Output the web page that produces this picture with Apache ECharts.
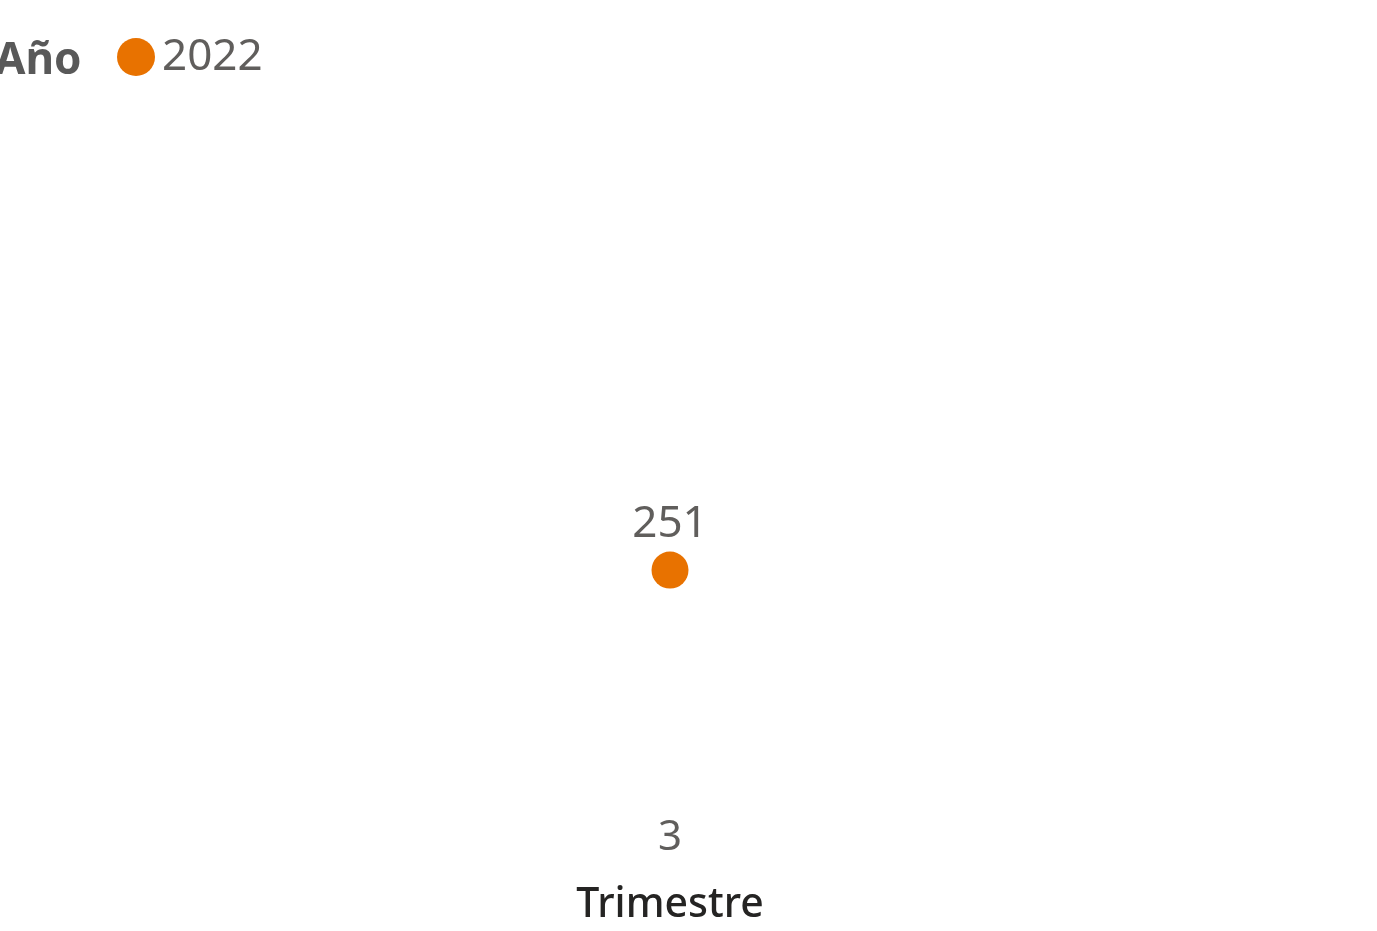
<!DOCTYPE html>
<html>
<head>
<meta charset="utf-8">
<script src="https://cdn.jsdelivr.net/npm/echarts@6/dist/echarts.min.js"></script>
<style>
  html, body { margin: 0; padding: 0; background: #fff; }
  #chart { width: 1377px; height: 931px; }
</style>
</head>
<body>
<div id="chart"></div>
<script>
// chart data
var trimestres = ['3']
var serieNombre = '2022'
var valores2022 = [251]

var fontFam = '"Noto Sans", "DejaVu Sans", sans-serif'
var naranja = '#E87200'

var chart = echarts.init(document.getElementById('chart'))
chart.setOption({
  animation: false,
  graphic: [{
    type: 'text',
    left: -5,
    top: 39,
    style: {
      text: 'Año',
      font: 'bold 44px ' + fontFam,
      fill: '#595959'
    }
  }],
  legend: {
    data: [serieNombre],
    left: 112,
    top: 30,
    icon: 'circle',
    itemWidth: 38,
    itemHeight: 38,
    textStyle: {
      fontFamily: fontFam,
      fontSize: 44,
      color: '#605E5C',
      padding: [0, 0, 0, 2]
    }
  },
  grid: {
    left: 0,
    right: 37,
    top: 118,
    bottom: 116
  },
  xAxis: {
    type: 'category',
    data: trimestres,
    name: 'Trimestre',
    nameLocation: 'middle',
    nameGap: 73,
    nameTextStyle: {
      fontFamily: fontFam,
      fontSize: 41,
      fontWeight: 500,
      color: '#252423'
    },
    axisLine: { show: false },
    axisTick: { show: false },
    axisLabel: {
      fontFamily: fontFam,
      fontSize: 42,
      color: '#605E5C',
      margin: 5
    }
  },
  yAxis: {
    type: 'value',
    min: 0,
    max: 720,
    show: false
  },
  series: [{
    name: serieNombre,
    type: 'line',
    data: valores2022,
    symbol: 'circle',
    symbolSize: 37,
    itemStyle: { color: naranja },
    lineStyle: { color: naranja },
    label: {
      show: true,
      position: 'top',
      distance: 5,
      fontFamily: fontFam,
      fontSize: 44,
      color: '#605E5C'
    }
  }]
})
</script>
</body>
</html>
